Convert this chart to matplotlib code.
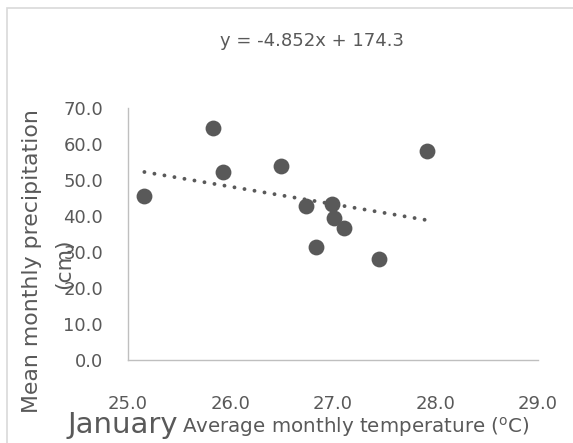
import matplotlib
matplotlib.use("Agg")
import matplotlib.pyplot as plt
from matplotlib.patches import Rectangle
import numpy as np

# ---- data ----
temperature = [25.16, 25.83, 25.93, 26.49, 26.74, 26.99, 27.01, 27.11, 26.83, 27.45, 27.92]
precipitation = [45.6, 64.5, 52.1, 54.0, 42.8, 43.2, 39.4, 36.6, 31.5, 28.0, 58.0]
trend_slope = -4.852
trend_intercept = 174.3
equation_label = "y = -4.852x + 174.3"
x_ticks = [25.0, 26.0, 27.0, 28.0, 29.0]
y_ticks = [0.0, 10.0, 20.0, 30.0, 40.0, 50.0, 60.0, 70.0]
month_label = "January"
x_title = r"Average monthly temperature ($^{\mathrm{o}}$C)"
y_title_1 = "Mean monthly precipitation"
y_title_2 = "(cm)"

FONT = "DejaVu Sans"
plt.rcParams["font.family"] = [FONT]
plt.rcParams["mathtext.fontset"] = "custom"
plt.rcParams["mathtext.rm"] = FONT
plt.rcParams["mathtext.it"] = FONT
plt.rcParams["mathtext.default"] = "rm"

TXT = "#595959"
AX = "#BFBFBF"
MK = "#595959"

W, H = 573, 443
fig = plt.figure(figsize=(W / 100, H / 100), dpi=100)

# chart-area border (only left/top visible)
fig.patches.append(Rectangle((7 / W, -0.1), 1.2, (H - 8) / H + 0.1, transform=fig.transFigure,
                             fill=False, edgecolor="#D9D9D9", linewidth=1.2))

ax = fig.add_axes([128 / W, 83 / H, (538 - 128) / W, (360 - 108) / H])
ax.set_xlim(25, 29)
ax.set_ylim(0, 70)

ax.scatter(temperature, precipitation, s=130, color=MK, zorder=3, linewidths=0)

tx = np.array([min(temperature), max(temperature)])
ax.plot(tx, trend_slope * tx + trend_intercept, color=MK, linewidth=2.8,
        linestyle=(0, (0.01, 2.6)), dash_capstyle="round", zorder=2)

ax.set_xticks(x_ticks)
ax.set_xticklabels([f"{v:.1f}" for v in x_ticks])
ax.set_yticks(y_ticks)
ax.set_yticklabels([f"{v:.1f}" for v in y_ticks])
ax.tick_params(axis="both", length=0, labelsize=13, labelcolor=TXT)
ax.tick_params(axis="x", pad=25)
ax.tick_params(axis="y", pad=18)

for s in ["top", "right"]:
    ax.spines[s].set_visible(False)
for s in ["left", "bottom"]:
    ax.spines[s].set_color(AX)
    ax.spines[s].set_linewidth(1.0)

fig.text(312 / W, (H - 41) / H, equation_label, ha="center", va="center",
         fontsize=13, color=TXT)

fig.text(32 / W, (H - 261) / H, y_title_1, rotation=90, ha="center", va="center",
         fontsize=15.8, color=TXT)
fig.text(64 / W, (H - 264) / H, y_title_2, rotation=90, ha="center", va="center",
         fontsize=15.8, color=TXT)

fig.text(68 / W, (H - 433) / H, month_label, ha="left", va="baseline",
         fontsize=21, color=TXT)
fig.text(182 / W, (H - 433) / H, x_title, ha="left", va="baseline",
         fontsize=14.3, color=TXT)

fig.savefig("out.png", dpi=100)
